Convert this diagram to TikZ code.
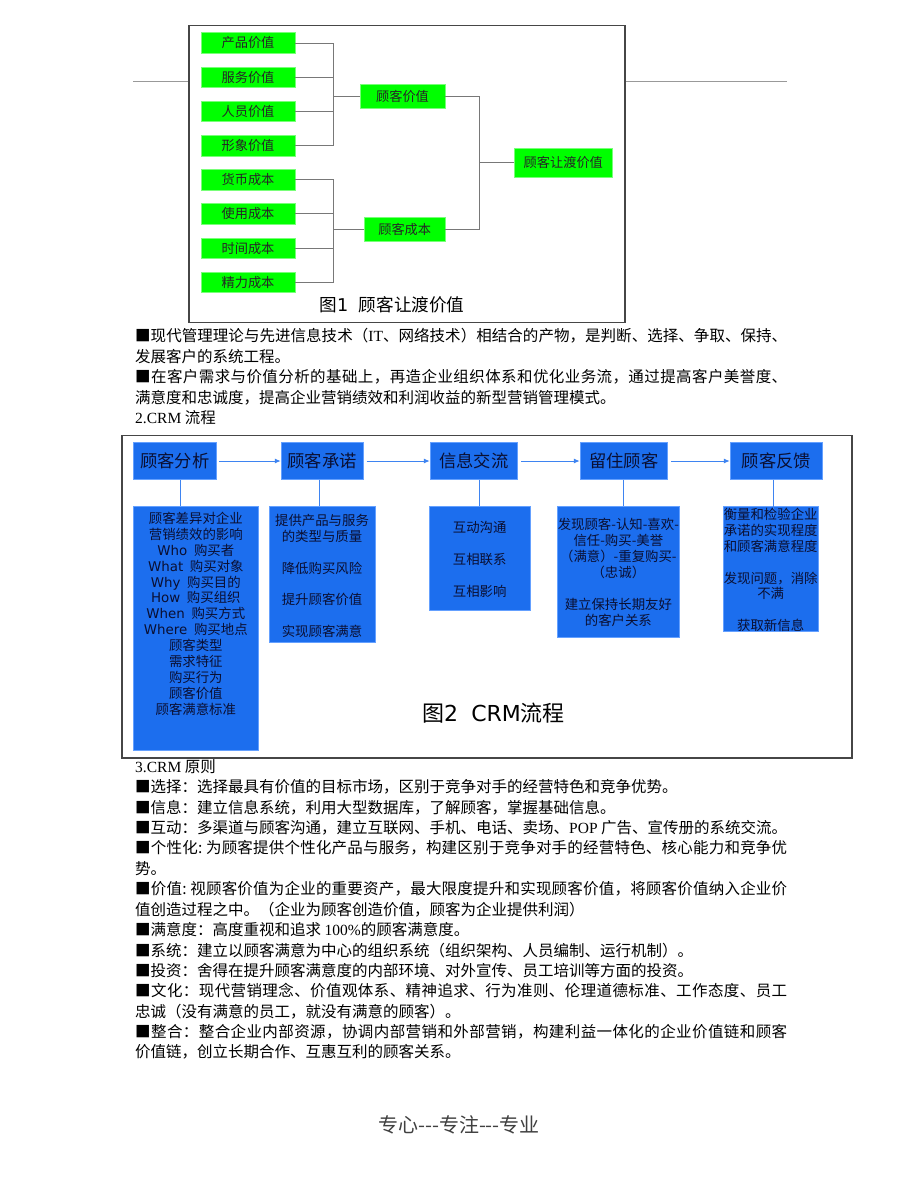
\documentclass[tikz,border=0pt]{standalone}
\usepackage{fontspec}
\setmainfont{Noto Sans CJK SC}
\newfontfamily\ls{Liberation Serif}
\newfontfamily\vd{DejaVu Sans}
\newfontfamily\plaincjk{Noto Sans CJK SC}
\usetikzlibrary{arrows.meta,calc}
\definecolor{crmblue}{RGB}{28,110,238}
\definecolor{crmedge}{RGB}{100,160,255}
\definecolor{gedge}{RGB}{120,255,120}
\definecolor{conngray}{RGB}{120,120,120}
\definecolor{framegray}{RGB}{70,70,70}
\definecolor{bluetext}{RGB}{10,15,50}
\ExplSyntaxOn
\NewDocumentCommand\spreadchars{m}{\tl_map_inline:nn{#1}{{##1}\hskip 0pt plus 1fil}\unskip}
\ExplSyntaxOff
\newcommand{\jline}[1]{\makebox[652pt][s]{\spreadchars{#1}}}
\begin{document}
\begin{tikzpicture}[x=1pt,y=-1pt,
 gbox/.style={fill=green, draw=gedge, line width=0.6pt, inner sep=0, font=\fontsize{13.2}{15}\selectfont, text=black!85},
 conn/.style={draw=conngray, line width=0.9pt},
 hbox/.style={fill=crmblue, draw=crmedge, line width=0.6pt, inner sep=0, font=\fontsize{17.3}{20}\selectfont, text=bluetext},
 dbox/.style={fill=crmblue, draw=crmedge, line width=0.6pt, inner sep=0},
 dtext/.style={inner sep=0, align=center, font=\fontsize{13.4}{15.9}\selectfont, text=bluetext},
 bconn/.style={draw=crmblue!85!white, line width=0.9pt},
 barrow/.style={bconn, -{Latex[length=6pt,width=5pt]}, shorten <=3pt},
 txt/.style={anchor=west, inner sep=0, font=\fontsize{15.5}{18}\selectfont},
 frame/.style={draw=framegray, line width=1.3pt},
 hrule/.style={draw=gray!80, line width=0.8pt}]
\fill[white] (0,0) rectangle (920,1191);
\useasboundingbox (0,0) rectangle (920,1191);

% ---------- Figure 1 ----------
\draw[hrule] (133,81) -- (189,81);
\draw[hrule] (625,81) -- (787,81);
\draw[frame] (189,25.5) rectangle (625,322.5);

\node[gbox, minimum width=94pt, minimum height=20.6pt] (a1) at (248,43) {产品价值};
\node[gbox, minimum width=94pt, minimum height=20.6pt] (a2) at (248,77.3) {服务价值};
\node[gbox, minimum width=94pt, minimum height=20.6pt] (a3) at (248,111.4) {人员价值};
\node[gbox, minimum width=94pt, minimum height=20.6pt] (a4) at (248,145.7) {形象价值};
\node[gbox, minimum width=94pt, minimum height=20.6pt] (b1) at (248,179.8) {货币成本};
\node[gbox, minimum width=94pt, minimum height=20.6pt] (b2) at (248,213.9) {使用成本};
\node[gbox, minimum width=94pt, minimum height=20.6pt] (b3) at (248,248.3) {时间成本};
\node[gbox, minimum width=94pt, minimum height=20.6pt] (b4) at (248,282.3) {精力成本};

\node[gbox, minimum width=85pt, minimum height=24.4pt] (cv) at (402.5,96.5) {顾客价值};
\node[gbox, minimum width=80.7pt, minimum height=24.3pt] (cc) at (404.7,229.2) {顾客成本};
\node[gbox, minimum width=98pt, minimum height=29pt] (ct) at (563.3,162.5) {顾客让渡价值};

\coordinate (j1) at (333.7,96.5);
\coordinate (j2) at (333.7,229.2);
\coordinate (j3) at (479.7,162.5);
\foreach \n in {a1,a2,a3,a4} \draw[conn] (\n.east) -| (j1);
\foreach \n in {b1,b2,b3,b4} \draw[conn] (\n.east) -| (j2);
\draw[conn] (j1) -- (cv.west);
\draw[conn] (j2) -- (cc.west);
\draw[conn] (cv.east) -| (j3);
\draw[conn] (cc.east) -| (j3);
\draw[conn] (j3) -- (ct.west);

\node[inner sep=0, font=\fontsize{17.6}{20}\selectfont] (cap1) at (392,305) {图{\vd 1}\hspace{0.6em}顾客让渡价值};

% ---------- Paragraphs ----------
\node[txt] (p1) at (135,336) {\jline{■现代管理理论与先进信息技术（{\ls IT}、网络技术）相结合的产物，是判断、选择、争取、保持、}};
\node[txt] (p2) at (135,356.5) {发展客户的系统工程。};
\node[txt] (p3) at (135,377) {\jline{■在客户需求与价值分析的基础上，再造企业组织体系和优化业务流，通过提高客户美誉度、}};
\node[txt] (p4) at (135,397.5) {满意度和忠诚度，提高企业营销绩效和利润收益的新型营销管理模式。};
\node[txt] (p5) at (135,418) {{\ls 2.CRM} 流程};

% ---------- Figure 2 ----------
\draw[frame] (122,435.5) rectangle (852,758);

\node[hbox, minimum width=82.7pt, minimum height=36.6pt] (h1) at (174.7,461) {顾客分析};
\node[hbox, minimum width=82.3pt, minimum height=36.6pt] (h2) at (322.2,461) {顾客承诺};
\node[hbox, minimum width=87.7pt, minimum height=36.6pt] (h3) at (473.9,461) {信息交流};
\node[hbox, minimum width=87.7pt, minimum height=36.6pt] (h4) at (623.9,461) {留住顾客};
\node[hbox, minimum width=92.7pt, minimum height=36.6pt] (h5) at (776.4,461) {顾客反馈};

\draw[barrow] (h1.east) -- (h2.west);
\draw[barrow] (h2.east) -- (h3.west);
\draw[barrow] (h3.east) -- (h4.west);
\draw[barrow] (h4.east) -- (h5.west);

\node[dbox, minimum width=125pt, minimum height=244pt] (d1) at (195.8,628.7) {};
\node[dbox, minimum width=106pt, minimum height=135.6pt] (d2) at (322,574.5) {};
\node[dbox, minimum width=100.7pt, minimum height=103.3pt] (d3) at (479.7,558.35) {};
\node[dbox, minimum width=122.7pt, minimum height=130.3pt] (d4) at (618.35,571.85) {};
\node[dbox, minimum width=95.3pt, minimum height=125pt] (d5) at (770.65,569.2) {};

\draw[bconn] ([xshift=6pt]h1.south) -- ([xshift=6pt]h1.south |- d1.north);
\draw[bconn] ([xshift=-3.2pt]h2.south) -- ([xshift=-3.2pt]h2.south |- d2.north);
\draw[bconn] ([xshift=5.4pt]h3.south) -- ([xshift=5.4pt]h3.south |- d3.north);
\draw[bconn] ([xshift=-0.6pt]h4.south) -- ([xshift=-0.6pt]h4.south |- d4.north);
\draw[bconn, shorten >=-10pt] ([xshift=-3.1pt]h5.south) -- ([xshift=-3.1pt]h5.south |- d5.north);

\node[dtext] (t1) at (195.8,613.7) {顾客差异对企业\\营销绩效的影响\\{\vd Who}\hspace{0.5em}购买者\\{\vd What}\hspace{0.5em}购买对象\\{\vd Why}\hspace{0.5em}购买目的\\{\vd How}\hspace{0.5em}购买组织\\{\vd When}\hspace{0.5em}购买方式\\{\vd Where}\hspace{0.5em}购买地点\\顾客类型\\需求特征\\购买行为\\顾客价值\\顾客满意标准};
\node[dtext] (t2) at (322,576) {提供产品与服务\\的类型与质量\\[15.9pt]降低购买风险\\[15.9pt]提升顾客价值\\[15.9pt]实现顾客满意};
\node[dtext] (t3) at (479.7,559.6) {互动沟通\\[15.9pt]互相联系\\[15.9pt]互相影响};
\node[dtext] (t4) at (618.35,572.5) {发现顾客-认知-喜欢-\\信任-购买-美誉\\（满意）-重复购买-\\（忠诚）\\[15.9pt]建立保持长期友好\\的客户关系};
\node[dtext] (t5) at (770.65,570) {衡量和检验企业\\承诺的实现程度\\和顾客满意程度\\[15.9pt]发现问题，消除\\不满\\[15.9pt]获取新信息};

\node[inner sep=0, font=\fontsize{22}{26}\selectfont] (cap2) at (493.5,713.3) {图{\vd 2\hspace{0.6em}CRM}流程};

% ---------- Principles ----------
\node[txt] (q0) at (135,766.5) {{\ls 3.CRM} 原则};
\node[txt] (q1) at (135,786.9) {■选择：选择最具有价值的目标市场，区别于竞争对手的经营特色和竞争优势。};
\node[txt] (q2) at (135,807.3) {■信息：建立信息系统，利用大型数据库，了解顾客，掌握基础信息。};
\node[txt] (q3) at (135,827.7) {\jline{■互动：多渠道与顾客沟通，建立互联网、手机、电话、卖场、{\ls POP\ }广告、宣传册的系统交流。}};
\node[txt] (q4) at (135,848.1) {\jline{■个性化{:\ }为顾客提供个性化产品与服务，构建区别于竞争对手的经营特色、核心能力和竞争优}};
\node[txt] (q5) at (135,868.5) {势。};
\node[txt] (q6) at (135,888.9) {\jline{■价值{:\ }视顾客价值为企业的重要资产，最大限度提升和实现顾客价值，将顾客价值纳入企业价}};
\node[txt] (q7) at (135,909.3) {值创造过程之中。（企业为顾客创造价值，顾客为企业提供利润）};
\node[txt] (q8) at (135,929.7) {■满意度：高度重视和追求 {\ls 100\%}的顾客满意度。};
\node[txt] (q9) at (135,950.1) {■系统：建立以顾客满意为中心的组织系统（组织架构、人员编制、运行机制）。};
\node[txt] (q10) at (135,970.5) {■投资：舍得在提升顾客满意度的内部环境、对外宣传、员工培训等方面的投资。};
\node[txt] (q11) at (135,990.9) {\jline{■文化：现代营销理念、价值观体系、精神追求、行为准则、伦理道德标准、工作态度、员工}};
\node[txt] (q12) at (135,1011.3) {忠诚（没有满意的员工，就没有满意的顾客）。};
\node[txt] (q13) at (135,1031.7) {\jline{■整合：整合企业内部资源，协调内部营销和外部营销，构建利益一体化的企业价值链和顾客}};
\node[txt] (q14) at (135,1052.1) {价值链，创立长期合作、互惠互利的顾客关系。};

% ---------- Footer ----------
\node[inner sep=0, font=\plaincjk\fontsize{20}{24}\selectfont, text=black!75] (foot) at (459,1125) {专心---专注---专业};
\end{tikzpicture}
\end{document}
